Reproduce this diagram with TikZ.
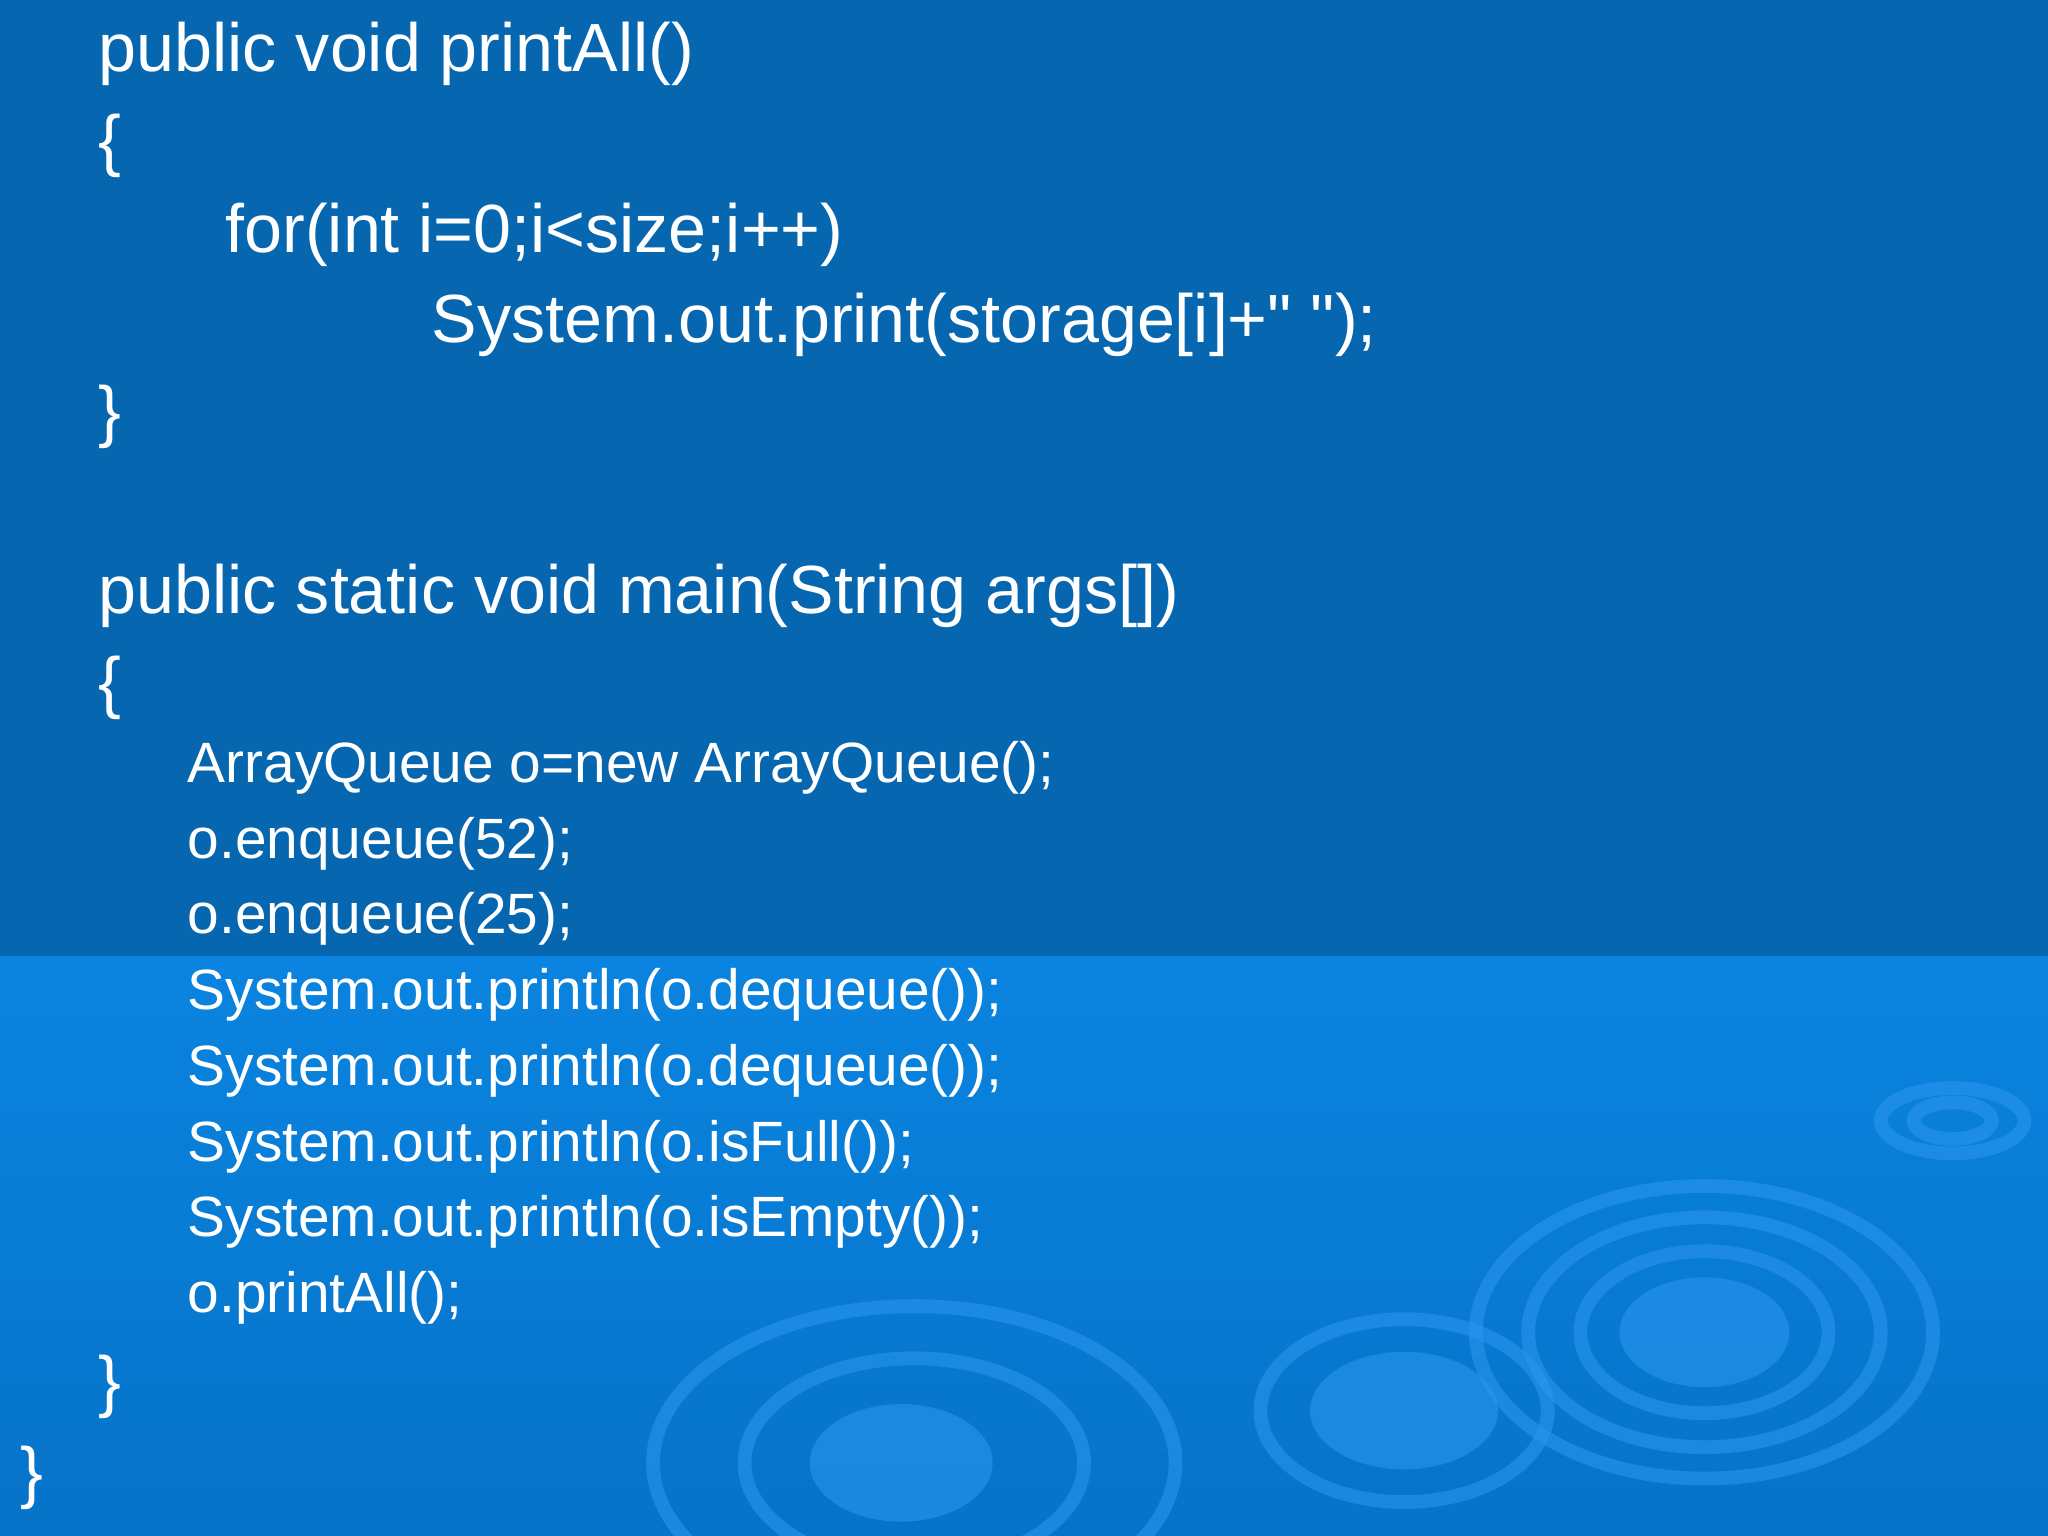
\documentclass[tikz,border=0pt]{standalone}
\usepackage{fontspec}
\setmainfont{Liberation Sans}
\definecolor{topbg}{HTML}{0667B0}
\definecolor{botbg}{HTML}{0A84E0}
\definecolor{botbg2}{HTML}{0673C8}
\definecolor{ring}{HTML}{2A95EE}
\begin{document}
\begin{tikzpicture}[x=0.01cm,y=-0.01cm,
  big/.style={anchor=base west,text=white,font=\fontsize{14.85pt}{16pt}\selectfont,inner sep=0},
  small/.style={anchor=base west,text=white,font=\fontsize{12.37pt}{14pt}\selectfont,inner sep=0},
  rg/.style={draw=ring,line width=3pt}]
\useasboundingbox (0,0) rectangle (1568,1176);
\fill[topbg] (0,0) rectangle (1568,732);
\shade[top color=botbg,bottom color=botbg2] (0,732) rectangle (1568,1176);
\begin{scope}[opacity=0.6]
\fill[ring] (1305,1020) ellipse (65 and 42);
\draw[rg] (1305,1020) ellipse (95 and 62);
\draw[rg] (1305,1020) ellipse (135 and 88);
\draw[rg] (1305,1020) ellipse (175 and 112);
\fill[ring] (1075,1080) ellipse (72 and 45);
\draw[rg] (1075,1080) ellipse (110 and 70);
\fill[ring] (690,1120) ellipse (70 and 45);
\draw[rg] (700,1120) ellipse (130 and 80);
\draw[rg] (700,1120) ellipse (200 and 120);
\draw[rg] (1495,858) ellipse (30 and 14);
\draw[rg] (1495,858) ellipse (55 and 25);
\end{scope}
\node[big] (l1) at (75,55) {public void printAll()};
\node[big] (l2) at (75,125) {\{};
\node[big] (l3) at (172,193) {for(int i=0;i<size;i++)};
\node[big] (l4) at (330,262) {System.out.print(storage[i]+\textquotedbl{} \textquotedbl{});};
\node[big] (l5) at (75,333) {\}};
\node[big] (l6) at (75,470) {public static void main(String args[])};
\node[big] (l7) at (75,540) {\{};
\node[small] (s1) at (143,599) {ArrayQueue o=new ArrayQueue();};
\node[small] (s2) at (143,657) {o.enqueue(52);};
\node[small] (s3) at (143,715) {o.enqueue(25);};
\node[small] (s4) at (143,773) {System.out.println(o.dequeue());};
\node[small] (s5) at (143,831) {System.out.println(o.dequeue());};
\node[small] (s6) at (143,889) {System.out.println(o.isFull());};
\node[small] (s7) at (143,947) {System.out.println(o.isEmpty());};
\node[small] (s8) at (143,1005) {o.printAll();};
\node[big] (l8) at (75,1075) {\}};
\node[big] (l9) at (15,1145) {\}};
\end{tikzpicture}
\end{document}
